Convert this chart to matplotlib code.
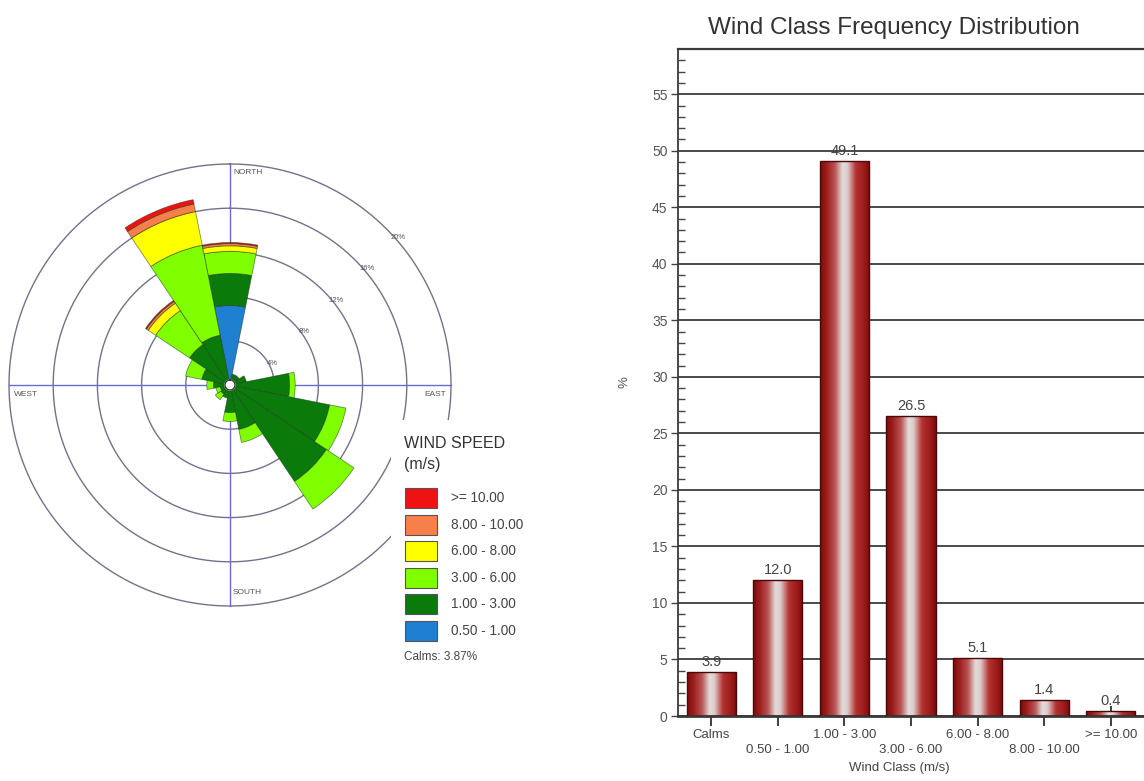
import numpy as np
import matplotlib
matplotlib.use("Agg")
import matplotlib.pyplot as plt
from matplotlib.colors import LinearSegmentedColormap
from matplotlib.patches import Rectangle

plt.rcParams['font.family'] = ['Liberation Sans', 'DejaVu Sans']

# ---------------- wind rose data (% of time per direction / speed class) ----
directions = ['N', 'NNE', 'NE', 'ENE', 'E', 'ESE', 'SE', 'SSE',
              'S', 'SSW', 'SW', 'WSW', 'W', 'WNW', 'NW', 'NNW']
speed_classes = ['0.50 - 1.00', '1.00 - 3.00', '3.00 - 6.00',
                 '6.00 - 8.00', '8.00 - 10.00', '>= 10.00']
speed_colors = ['#1f7fd0', '#0a7a0a', '#80ff00', '#ffff00', '#f7804a', '#f01212']

freq_050_100 = [7.2, 0, 0, 0, 0, 0, 0, 0, 0, 0, 0, 0, 0, 0, 0, 0]
freq_100_300 = [2.9, 1.0, 1.0, 1.5, 5.4, 9.2, 10.5, 4.1, 2.5, 1.2, 1.0, 0.9, 1.5, 2.6, 4.4, 4.6]
freq_300_600 = [2.0, 0, 0, 0, 0.5, 1.5, 3.0, 1.2, 0.8, 0, 0.6, 0.4, 0.6, 1.5, 3.7, 8.3]
freq_600_800 = [0.5, 0, 0, 0, 0, 0, 0, 0, 0, 0, 0, 0, 0, 0, 0.8, 3.1]
freq_800_1000 = [0.2, 0, 0, 0, 0, 0, 0, 0, 0, 0, 0, 0, 0, 0, 0.2, 0.7]
freq_ge_1000 = [0.1, 0, 0, 0, 0, 0, 0, 0, 0, 0, 0, 0, 0, 0, 0.1, 0.4]
calms_pct = 3.87
ring_levels = [4, 8, 12, 16, 20]

# ---------------- class frequency distribution ----------------------------
wind_classes = ['Calms', '0.50 - 1.00', '1.00 - 3.00', '3.00 - 6.00',
                '6.00 - 8.00', '8.00 - 10.00', '>= 10.00']
class_pct = [3.9, 12.0, 49.1, 26.5, 5.1, 1.4, 0.4]

W, H = 1144, 781
fig = plt.figure(figsize=(W / 100, H / 100), dpi=100)
fig.patch.set_facecolor('white')


def fx(px):
    return px / W


def fy(py):
    return 1 - py / H


# ---------------- wind rose ----------------------------------------------
cx, cy, R = 230, 385, 221
axr = fig.add_axes([fx(cx - R), fy(cy + R), 2 * R / W, 2 * R / H], projection='polar')
axr.set_theta_zero_location('N')
axr.set_theta_direction(-1)
axr.set_ylim(0, ring_levels[-1])
axr.axis('off')

circ = np.linspace(0, 2 * np.pi, 721)
for r in ring_levels:
    axr.plot(circ, np.full_like(circ, r), color='#72728a', lw=1.0, zorder=1, clip_on=False)
for th in (0, np.pi / 2, np.pi, 3 * np.pi / 2):
    axr.plot([th, th], [0, ring_levels[-1]], color='#6b6bd8', lw=1.0, zorder=1, clip_on=False)

n_dir = len(directions)
theta = np.arange(n_dir) * 2 * np.pi / n_dir
width = 2 * np.pi / n_dir
layers = [freq_050_100, freq_100_300, freq_300_600, freq_600_800, freq_800_1000, freq_ge_1000]
bottom = np.zeros(n_dir)
for vals, col in zip(layers, speed_colors):
    vals = np.asarray(vals, dtype=float)
    m = vals > 0
    axr.bar(theta[m], vals[m], width=width, bottom=bottom[m], color=col,
            edgecolor=(0.1, 0.2, 0.1, 0.55), linewidth=0.6, zorder=3, align='center')
    bottom += vals

# calm hole at the centre
hole = 0.45
axr.fill(circ, np.full_like(circ, hole), color='white', zorder=6)
axr.plot(circ, np.full_like(circ, hole), color='#333333', lw=0.9, zorder=7)

# ring labels, set along a diagonal in the NE quadrant
for r in ring_levels:
    rr = r + 0.25
    xe = (1.9 + np.sqrt(2 * rr ** 2 - 1.9 ** 2)) / 2
    yn = xe - 1.9
    axr.text(np.arctan2(xe, yn), np.hypot(xe, yn), f'{r}%', fontsize=5.5,
             color='#555555', ha='center', va='center', zorder=2)

compass_kw = dict(fontsize=6, color='#555555', va='center')
fig.text(fx(233), fy(173), 'NORTH', ha='left', **compass_kw)
fig.text(fx(233), fy(593), 'SOUTH', ha='left', **compass_kw)
fig.text(fx(14), fy(394), 'WEST', ha='left', **compass_kw)
fig.text(fx(446), fy(394), 'EAST', ha='right', **compass_kw)

# legend panel
fig.patches.append(Rectangle((fx(391), 0), fx(640) - fx(391), fy(420),
                             transform=fig.transFigure, facecolor='white',
                             edgecolor='none', zorder=2))
fig.text(fx(404), fy(443), 'WIND SPEED', fontsize=11.5, color='#333333',
         ha='left', va='center', zorder=4)
fig.text(fx(404), fy(465), '(m/s)', fontsize=11.5, color='#333333',
         ha='left', va='center', zorder=4)
row_y = 498
for lab, col in zip(speed_classes[::-1], speed_colors[::-1]):
    fig.patches.append(Rectangle((fx(405), fy(row_y + 10)), 32 / W, 20 / H,
                                 transform=fig.transFigure, facecolor=col,
                                 edgecolor='#555555', lw=0.8, zorder=3))
    fig.text(fx(451), fy(row_y), lab, fontsize=9.8, color='#444444',
             ha='left', va='center', zorder=4)
    row_y += 26.6
fig.text(fx(404), fy(657), f'Calms: {calms_pct:.2f}%', fontsize=8.5, color='#444444',
         ha='left', va='center', zorder=4)

# ---------------- bar chart -----------------------------------------------
axb = fig.add_axes([fx(678), fy(716), (1144 - 678) / W, (716 - 49) / H])
x = np.arange(len(wind_classes))
bars = axb.bar(x, class_pct, width=0.74, color='none', edgecolor='#4a0808',
               linewidth=1.0, zorder=3)

grad_cmap = LinearSegmentedColormap.from_list('bar_shade', [
    (0.00, '#7c0e0e'), (0.12, '#9c1a1a'), (0.30, '#b95454'),
    (0.45, '#e4dcdc'), (0.55, '#ddcccc'), (0.72, '#b33232'),
    (0.90, '#9a1818'), (1.00, '#780c0c')])
grad = np.linspace(0, 1, 256).reshape(1, -1)
for b in bars:
    x0, w, h = b.get_x(), b.get_width(), b.get_height()
    im = axb.imshow(grad, cmap=grad_cmap, aspect='auto',
                    extent=[x0, x0 + w, 0, h], zorder=2.5, interpolation='bicubic')
    im.set_clip_path(b)

for xi, v in zip(x, class_pct):
    axb.text(xi, v + 0.3, f'{v:.1f}', ha='center', va='bottom',
             fontsize=10.5, color='#444444', zorder=4)

axb.set_xlim(-0.5, len(wind_classes) - 0.5)
axb.set_ylim(0, 59)
axb.set_yticks(np.arange(0, 56, 5))
axb.set_yticks(np.arange(0, 59, 1), minor=True)
axb.yaxis.grid(True, which='major', color='#3c3c3c', lw=1.3)
axb.set_axisbelow(True)
axb.tick_params(axis='y', which='major', direction='out', length=5, width=1,
                color='#444444', labelsize=10, labelcolor='#555555', pad=2.5)
axb.tick_params(axis='y', which='minor', direction='in', length=5, width=1,
                color='#444444')
axb.set_xticks(x)
axb.set_xticklabels([lab if i % 2 == 0 else '\n' + lab for i, lab in enumerate(wind_classes)],
                    linespacing=1.35)
axb.tick_params(axis='x', direction='inout', length=14, width=1.3, color='#333333',
                labelsize=9.5, labelcolor='#444444', pad=2)
for side in ('left', 'top', 'bottom'):
    axb.spines[side].set_color('#3a3a3a')
axb.spines['left'].set_linewidth(1.3)
axb.spines['top'].set_linewidth(1.6)
axb.spines['bottom'].set_linewidth(2.0)
axb.spines['right'].set_visible(False)

fig.text(fx(894), fy(28), 'Wind Class Frequency Distribution', fontsize=17.5,
         color='#333333', ha='center', va='center')
fig.text(fx(899), fy(768), 'Wind Class (m/s)', fontsize=9.5, color='#444444',
         ha='center', va='center')
fig.text(fx(625), fy(382), '%', fontsize=9.5, color='#555555', rotation=90,
         ha='center', va='center')

fig.savefig('out.png', dpi=100, facecolor='white')
